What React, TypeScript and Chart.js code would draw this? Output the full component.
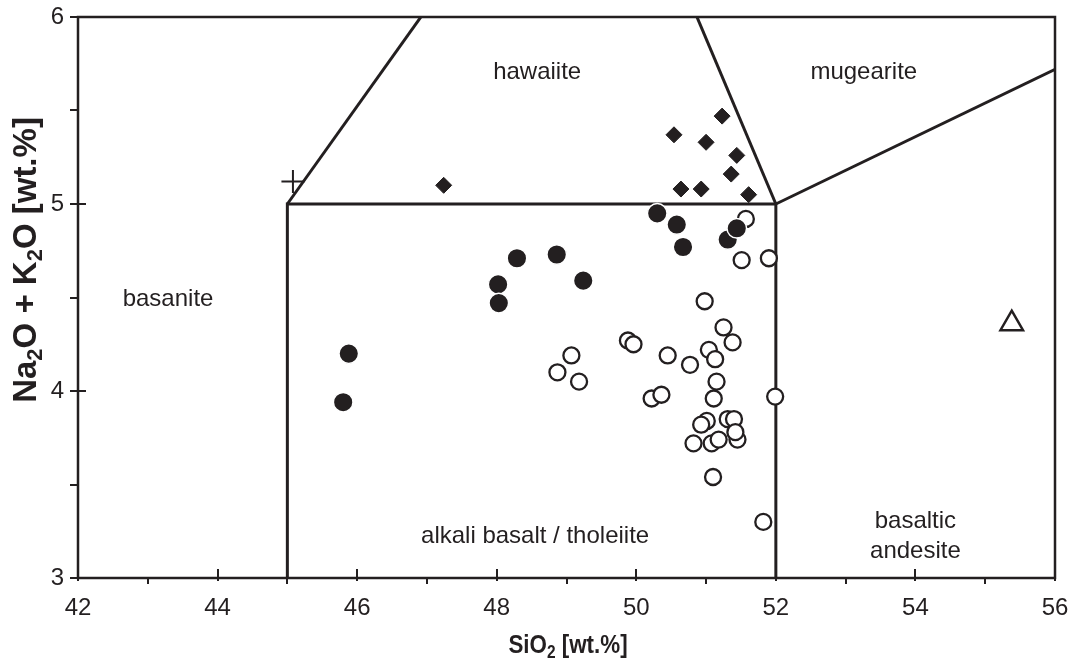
import React, { useEffect, useRef } from "react";
import { Chart, registerables } from "chart.js";

Chart.register(...registerables);

// ---- axis ticks ----
const xMajorTicks = [42, 44, 46, 48, 50, 52, 54, 56];
const xMinorTicks = [43, 45, 47, 49, 51, 53, 55];
const yMajorTicks = [3, 4, 5, 6];
const yMinorTicks = [3.5, 4.5, 5.5];

// ---- TAS field boundaries (SiO2, Na2O+K2O) ----
const boundaryBasalt = [[45, 3], [45, 5], [52, 5], [52, 3]];
const boundaryHawaiiteLeft = [[45, 5], [49.4, 7.3]];
const boundaryHawaiiteRight = [[52, 5], [49.4, 7.3]];
const boundaryMugearite = [[52, 5], [57, 5.9]];

// ---- samples ----
const openCircles = [
  [49.07, 4.19], [48.87, 4.1], [49.18, 4.05],
  [51.57, 4.92], [51.51, 4.7], [51.9, 4.71], [50.98, 4.48],
  [49.88, 4.27], [49.96, 4.25], [50.45, 4.19], [50.77, 4.14],
  [51.25, 4.34], [51.38, 4.26], [51.04, 4.22], [51.13, 4.17],
  [51.15, 4.05], [51.11, 3.96], [50.22, 3.96], [50.36, 3.98],
  [51.99, 3.97], [51.01, 3.84], [50.93, 3.82], [51.31, 3.85],
  [51.4, 3.85], [50.82, 3.72], [51.08, 3.72], [51.18, 3.74],
  [51.45, 3.74], [51.42, 3.78], [51.1, 3.54], [51.82, 3.3],
];
const filledCircles = [
  [45.88, 4.2], [45.8, 3.94], [48.02, 4.57], [48.03, 4.47],
  [48.29, 4.71], [48.86, 4.73], [49.24, 4.59], [50.3, 4.95],
  [50.58, 4.89], [50.67, 4.77], [51.31, 4.81], [51.44, 4.87],
];
const diamonds = [
  [47.24, 5.1], [51.23, 5.47], [50.54, 5.37], [51.0, 5.33],
  [51.44, 5.26], [51.36, 5.16], [50.64, 5.08], [50.93, 5.08],
  [51.61, 5.05],
];
const crossPoint = [[45.08, 5.12]];
const trianglePoint = [[55.38, 4.36]];

// ---- field names ----
const fieldNames = ["hawaiite", "mugearite", "basanite", "alkali basalt / tholeiite", "basaltic", "andesite"];
const fieldX = [48.58, 53.26, 43.29, 48.55, 54.0, 54.0];
const fieldY = [5.705, 5.705, 4.49, 3.22, 3.305, 3.145];

const INK = "#231f20";
const toXY = (arr: number[][]) => arr.map(([x, y]) => ({ x, y }));

function drawRichText(
  ctx: CanvasRenderingContext2D,
  parts: { t: string; sub?: boolean }[],
  size: number,
  family: string,
  squeeze: number
) {
  const mainFont = `bold ${size}px ${family}`;
  const subFont = `bold ${Math.round(size * 0.68)}px ${family}`;
  let total = 0;
  parts.forEach((p) => {
    ctx.font = p.sub ? subFont : mainFont;
    total += ctx.measureText(p.t).width;
  });
  ctx.scale(squeeze, 1);
  let x = -total / 2;
  ctx.textBaseline = "middle";
  ctx.textAlign = "left";
  parts.forEach((p) => {
    ctx.font = p.sub ? subFont : mainFont;
    ctx.fillText(p.t, x, p.sub ? size * 0.28 : 0);
    x += ctx.measureText(p.t).width;
  });
}

const decorPlugin = {
  id: "decor",
  beforeDatasetsDraw(chart: any) {
    const { ctx, scales } = chart;
    const xs = scales.x, ys = scales.y;
    ctx.save();
    ctx.fillStyle = INK;
    ctx.font = '24px "Liberation Sans", Arial, sans-serif';
    ctx.textAlign = "center";
    ctx.textBaseline = "middle";
    fieldNames.forEach((n, i) => {
      ctx.fillText(n, xs.getPixelForValue(fieldX[i]), ys.getPixelForValue(fieldY[i]));
    });
    ctx.restore();
  },
  afterDatasetsDraw(chart: any) {
    const { ctx, chartArea: a, scales } = chart;
    const xs = scales.x, ys = scales.y;
    ctx.save();
    ctx.strokeStyle = INK;
    ctx.lineWidth = 2.5;
    ctx.strokeRect(a.left, a.top, a.right - a.left, a.bottom - a.top);
    ctx.lineWidth = 2;
    ctx.beginPath();
    xMajorTicks.forEach((v) => {
      const p = Math.round(xs.getPixelForValue(v));
      ctx.moveTo(p, a.bottom - 9);
      ctx.lineTo(p, a.bottom + 3);
    });
    xMinorTicks.forEach((v) => {
      const p = Math.round(xs.getPixelForValue(v));
      ctx.moveTo(p, a.bottom);
      ctx.lineTo(p, a.bottom + 6);
    });
    yMajorTicks.forEach((v) => {
      const p = Math.round(ys.getPixelForValue(v));
      ctx.moveTo(a.left - 8, p);
      ctx.lineTo(a.left + 8, p);
    });
    yMinorTicks.forEach((v) => {
      const p = Math.round(ys.getPixelForValue(v));
      ctx.moveTo(a.left - 8, p);
      ctx.lineTo(a.left, p);
    });
    ctx.stroke();

    // axis titles
    ctx.fillStyle = INK;
    const fam = '"Liberation Sans", Arial, sans-serif';
    ctx.save();
    ctx.translate(568, 646);
    drawRichText(ctx, [{ t: "SiO" }, { t: "2", sub: true }, { t: " [wt.%]" }], 26, fam, 0.86);
    ctx.restore();
    ctx.save();
    ctx.translate(27, 260);
    ctx.rotate(-Math.PI / 2);
    drawRichText(
      ctx,
      [{ t: "Na" }, { t: "2", sub: true }, { t: "O + K" }, { t: "2", sub: true }, { t: "O [wt.%]" }],
      33,
      fam,
      1.0
    );
    ctx.restore();
    ctx.restore();
  },
};

const zeroPad = (s: any) => {
  s.paddingTop = 0;
  s.paddingBottom = 0;
  s.paddingLeft = 0;
  s.paddingRight = 0;
};

export default function App() {
  const ref = useRef<HTMLCanvasElement | null>(null);
  useEffect(() => {
    if (!ref.current) return;
    const lineDs = (pts: number[][]) => ({
      data: toXY(pts),
      showLine: true,
      borderColor: INK,
      borderWidth: 3,
      pointRadius: 0,
      fill: false,
      order: 10,
    });
    const tickFont = { family: '"Liberation Sans Narrow", "Liberation Sans", Arial', size: 24 };
    const chart = new Chart(ref.current, {
      type: "scatter",
      data: {
        datasets: [
          lineDs(boundaryBasalt),
          lineDs(boundaryHawaiiteLeft),
          lineDs(boundaryHawaiiteRight),
          lineDs(boundaryMugearite),
          {
            data: toXY(openCircles),
            pointStyle: "circle",
            pointRadius: 8,
            pointBackgroundColor: "#ffffff",
            pointBorderColor: INK,
            pointBorderWidth: 2.3,
            order: 5,
          },
          {
            data: toXY(filledCircles),
            pointStyle: "circle",
            pointRadius: 9.8,
            pointBackgroundColor: INK,
            pointBorderColor: "#ffffff",
            pointBorderWidth: 1.5,
            order: 4,
          },
          {
            data: toXY(diamonds),
            pointStyle: "rectRot",
            pointRadius: 8,
            pointBackgroundColor: INK,
            pointBorderColor: INK,
            pointBorderWidth: 1,
            order: 3,
          },
          {
            data: toXY(crossPoint),
            pointStyle: "cross",
            pointRadius: 11.5,
            pointBorderColor: INK,
            pointBorderWidth: 2,
            order: 2,
          },
          {
            data: toXY(trianglePoint),
            pointStyle: "triangle",
            pointRadius: 13,
            pointBackgroundColor: "#ffffff",
            pointBorderColor: INK,
            pointBorderWidth: 2.5,
            order: 1,
          },
        ] as any,
      },
      options: {
        animation: false,
        responsive: false,
        maintainAspectRatio: false,
        layout: { padding: { top: 17, right: 17, left: 0, bottom: 0 } },
        plugins: { legend: { display: false }, tooltip: { enabled: false } },
        scales: {
          x: {
            type: "linear",
            min: 42,
            max: 56,
            afterFit: (s: any) => { s.height = 84; zeroPad(s); },
            afterBuildTicks: (s: any) => { s.ticks = xMajorTicks.map((v) => ({ value: v })); },
            grid: { display: false, drawTicks: false },
            border: { display: false },
            ticks: { padding: 16, color: INK, font: tickFont },
          },
          y: {
            type: "linear",
            min: 3,
            max: 6,
            afterFit: (s: any) => { s.width = 78; zeroPad(s); },
            afterBuildTicks: (s: any) => { s.ticks = yMajorTicks.map((v) => ({ value: v })); },
            grid: { display: false, drawTicks: false },
            border: { display: false },
            ticks: { padding: 14, color: INK, font: tickFont },
          },
        },
      },
      plugins: [decorPlugin],
    });
    return () => chart.destroy();
  }, []);
  return (
    <div style={{ position: "fixed", left: 0, top: 0, width: 1072, height: 662, background: "#fff" }}>
      <canvas ref={ref} width={1072} height={662} style={{ width: 1072, height: 662, display: "block" }} />
    </div>
  );
}
